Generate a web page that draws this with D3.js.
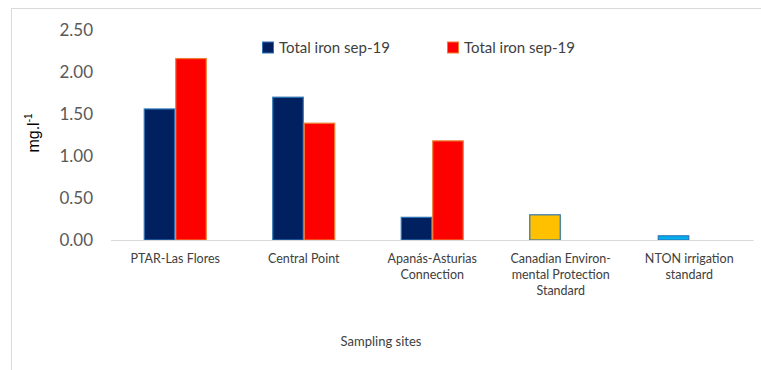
<!DOCTYPE html>
<html>
<head>
<meta charset="utf-8">
<script src="https://cdn.jsdelivr.net/npm/d3@7"></script>
<style>
  body { margin: 0; background: #fff; }
  svg { display: block; font-family: Lato, "Open Sans", sans-serif; }
</style>
</head>
<body>
<script>
// Datos del gráfico
const categorias = [
  "PTAR-Las Flores",
  "Central Point",
  "Apanás-Asturias\nConnection",
  "Canadian Environ-\nmental Protection\nStandard",
  "NTON irrigation\nstandard",
];
const series = ["Total iron sep-19 (1)", "Total iron sep-19 (2)"];
const leyendas = ["Total iron sep-19", "Total iron sep-19"];
const valoresSerie1 = [1.56, 1.70, 0.27, 0.30, 0.05];
const valoresSerie2 = [2.16, 1.39, 1.18, 0, 0];
const ticksY = [0, 0.5, 1, 1.5, 2, 2.5];

// Estilos
const WIDTH = 761;
const HEIGHT = 370;
const coloresSerie1 = ["#002060", "#002060", "#002060", "#ffc000", "#00b0f0"];
const bordeSerie1 = "#2e75b6";
const colorSerie2 = "#ff0000";
const bordeSerie2 = "#ed7d31";

const svg = d3.select("body")
  .append("svg")
  .attr("width", WIDTH)
  .attr("height", HEIGHT);

// Marco del área del gráfico
svg.append("rect")
  .attr("x", 11.5)
  .attr("y", 8.5)
  .attr("width", 800)
  .attr("height", 400)
  .attr("fill", "none")
  .attr("stroke", "#d9d9d9");

// Escalas
const escalaX = d3.scaleBand()
  .domain(categorias)
  .range([111, 753.5])
  .paddingInner(0.51)
  .paddingOuter(0.255);

const escalaSerie = d3.scaleBand()
  .domain(series)
  .range([0, escalaX.bandwidth()]);

const escalaY = d3.scaleLinear()
  .domain([0, 2.5])
  .range([240, 30]);

// Eje Y (solo etiquetas)
const ejeY = d3.axisLeft(escalaY)
  .tickValues(ticksY)
  .tickFormat(d3.format(".2f"))
  .tickSize(0)
  .tickPadding(0);

svg.append("g")
  .attr("transform", "translate(93, 0)")
  .call(ejeY)
  .call(g => g.select(".domain").remove())
  .selectAll("text")
  .attr("font-family", "Lato, sans-serif")
  .attr("font-size", 17)
  .attr("fill", "#595959");

// Barras
const datos = categorias.map((c, i) => ({
  categoria: c,
  v1: valoresSerie1[i],
  v2: valoresSerie2[i],
  color1: coloresSerie1[i],
}));

const grupos = svg.append("g")
  .selectAll("g")
  .data(datos)
  .join("g")
  .attr("transform", (d) => `translate(${escalaX(d.categoria)}, 0)`);

grupos.append("rect")
  .attr("x", escalaSerie(series[0]) + 0.5)
  .attr("y", (d) => escalaY(d.v1))
  .attr("width", escalaSerie.bandwidth() - 1)
  .attr("height", (d) => escalaY(0) - escalaY(d.v1))
  .attr("fill", (d) => d.color1)
  .attr("stroke", bordeSerie1)
  .attr("stroke-width", 1.2);

grupos.filter((d) => d.v2 > 0)
  .append("rect")
  .attr("x", escalaSerie(series[1]) + 0.5)
  .attr("y", (d) => escalaY(d.v2))
  .attr("width", escalaSerie.bandwidth() - 1)
  .attr("height", (d) => escalaY(0) - escalaY(d.v2))
  .attr("fill", colorSerie2)
  .attr("stroke", bordeSerie2)
  .attr("stroke-width", 1.2);

// Línea base
svg.append("line")
  .attr("x1", 111)
  .attr("x2", 753.5)
  .attr("y1", escalaY(0) + 0.5)
  .attr("y2", escalaY(0) + 0.5)
  .attr("stroke", "#d9d9d9")
  .attr("stroke-width", 1);

// Etiquetas de categorías
const etiquetas = svg.append("g")
  .selectAll("text")
  .data(categorias)
  .join("text")
  .attr("text-anchor", "middle")
  .attr("font-size", 12.5)
  .attr("fill", "#404040")
  .attr("y", 263);

etiquetas.selectAll("tspan")
  .data((d) => d.split("\n").map((t) => ({ t, c: d })))
  .join("tspan")
  .attr("x", (d) => escalaX(d.c) + escalaX.bandwidth() / 2)
  .attr("dy", (d, i) => (i === 0 ? 0 : 16))
  .text((d) => d.t);

// Título eje X
svg.append("text")
  .attr("x", 381)
  .attr("y", 346)
  .attr("text-anchor", "middle")
  .attr("font-size", 13)
  .attr("fill", "#404040")
  .text("Sampling sites");

// Título eje Y
const tituloY = svg.append("text")
  .attr("transform", "translate(39, 133) rotate(-90)")
  .attr("text-anchor", "middle")
  .attr("font-family", "Liberation Sans, Arial, sans-serif")
  .attr("font-size", 16)
  .attr("fill", "#000");
tituloY.append("tspan").text("mg.l");
tituloY.append("tspan")
  .attr("font-size", 10)
  .attr("dy", -7)
  .text("-1");

// Leyenda
const posLeyenda = [262, 447];
const leyenda = svg.append("g")
  .selectAll("g")
  .data(leyendas)
  .join("g")
  .attr("transform", (d, i) => `translate(${posLeyenda[i]}, 41.5)`);

leyenda.append("rect")
  .attr("x", 0.5)
  .attr("y", 0.5)
  .attr("width", 11)
  .attr("height", 11)
  .attr("fill", (d, i) => (i === 0 ? coloresSerie1[0] : colorSerie2))
  .attr("stroke", (d, i) => (i === 0 ? bordeSerie1 : bordeSerie2));

leyenda.append("text")
  .attr("x", 17)
  .attr("y", 11)
  .attr("font-size", 15)
  .attr("fill", "#404040")
  .text((d) => d);
</script>
</body>
</html>
